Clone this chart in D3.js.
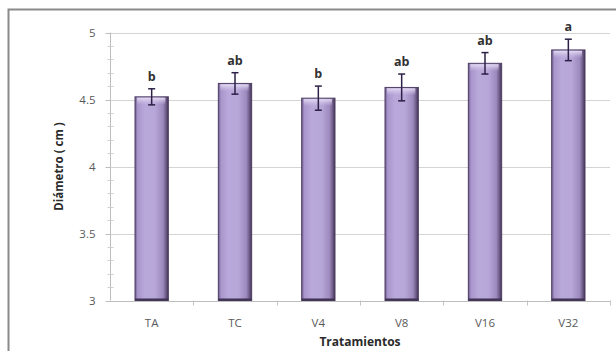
<!DOCTYPE html>
<html>
<head>
<meta charset="utf-8">
<script src="https://cdn.jsdelivr.net/npm/d3@7/dist/d3.min.js"></script>
<style>
  html, body { margin: 0; padding: 0; background: #fff; }
  svg { display: block; }
  text { font-family: "Open Sans", "DejaVu Sans", sans-serif; }
</style>
</head>
<body>
<svg id="chart" width="616" height="351"></svg>
<script>
// Treatments, mean diameter (cm), error (±) and significance letters
const categories = ["TA", "TC", "V4", "V8", "V16", "V32"];
const diameters  = [4.52, 4.62, 4.51, 4.59, 4.77, 4.87];
const errors     = [0.06, 0.08, 0.09, 0.10, 0.08, 0.08];
const letters    = ["b", "ab", "b", "ab", "ab", "a"];
const yTicks     = [3, 3.5, 4, 4.5, 5];
const yMinorTicks = d3.range(30, 51).map(v => v / 10);

const svg = d3.select("#chart");
const margin = { left: 110, right: 6, top: 32.5, bottom: 50.5 };
const W = 616, H = 351;

// outer frame
svg.append("rect")
  .attr("x", 8.5).attr("y", 9.5)
  .attr("width", 640).attr("height", 400)
  .attr("fill", "#fff")
  .attr("stroke", "#8a8a8a").attr("stroke-width", 2);

const x = d3.scaleBand()
  .domain(categories)
  .range([margin.left, W - margin.right])
  .paddingInner(0.6).paddingOuter(0.3);

const y = d3.scaleLinear()
  .domain([3, 5])
  .range([H - margin.bottom, margin.top]);

// gridlines
svg.append("g")
  .selectAll("line")
  .data(yTicks.filter(v => v > 3))
  .join("line")
  .attr("x1", margin.left).attr("x2", W - margin.right)
  .attr("y1", d => Math.round(y(d)) + 0.5).attr("y2", d => Math.round(y(d)) + 0.5)
  .attr("stroke", "#d4d4d4").attr("stroke-width", 1);

// bar gradients
const defs = svg.append("defs");
const grad = defs.append("linearGradient").attr("id", "barGrad")
  .attr("x1", "0%").attr("x2", "100%").attr("y1", "0%").attr("y2", "0%");
[["0%", "#6d5a8c"], ["8%", "#a996cc"], ["30%", "#b9a8da"], ["60%", "#b7a6d8"],
 ["84%", "#9c89bd"], ["93%", "#6f5c88"], ["100%", "#3f3252"]]
  .forEach(([o, c]) => grad.append("stop").attr("offset", o).attr("stop-color", c));

const topGrad = defs.append("linearGradient").attr("id", "topGrad")
  .attr("x1", "0%").attr("x2", "0%").attr("y1", "0%").attr("y2", "100%");
[["0%", "#e6def4", 0.95], ["100%", "#cfc3e8", 0]]
  .forEach(([o, c, a]) => topGrad.append("stop").attr("offset", o).attr("stop-color", c).attr("stop-opacity", a));

// y axis (with minor ticks)
const yAxisG = svg.append("g").attr("transform", `translate(${margin.left + 0.5},0)`);
yAxisG.append("line")
  .attr("y1", y(5)).attr("y2", y(3))
  .attr("stroke", "#bdbdbd");
yAxisG.selectAll("line.minor")
  .data(yMinorTicks)
  .join("line").attr("class", "minor")
  .attr("x1", -3).attr("x2", 3)
  .attr("y1", d => Math.round(y(d)) + 0.5).attr("y2", d => Math.round(y(d)) + 0.5)
  .attr("stroke", "#cfcfcf");
yAxisG.selectAll("line.major")
  .data(yTicks)
  .join("line").attr("class", "major")
  .attr("x1", -5).attr("x2", 0)
  .attr("y1", d => Math.round(y(d)) + 0.5).attr("y2", d => Math.round(y(d)) + 0.5)
  .attr("stroke", "#bdbdbd");
yAxisG.selectAll("text")
  .data(yTicks)
  .join("text")
  .attr("x", -15).attr("y", d => y(d))
  .attr("dy", "0.35em")
  .attr("text-anchor", "end")
  .attr("font-size", 11.5)
  .attr("fill", "#5a5a5a")
  .text(d => d3.format("~g")(d));

// bars
const bars = svg.append("g");
categories.forEach((c, i) => {
  const bx = x(c), bw = x.bandwidth();
  const top = y(diameters[i]), bottom = y(3);
  bars.append("rect")
    .attr("x", bx).attr("y", top)
    .attr("width", bw).attr("height", bottom - top)
    .attr("fill", "url(#barGrad)")
    .attr("stroke", "#4e3f63").attr("stroke-width", 1);
  bars.append("rect")
    .attr("x", bx + 2).attr("y", top + 1)
    .attr("width", bw - 5).attr("height", 7)
    .attr("fill", "url(#topGrad)");
  bars.append("line")
    .attr("x1", bx).attr("x2", bx + bw)
    .attr("y1", bottom - 1).attr("y2", bottom - 1)
    .attr("stroke", "#3f3252").attr("stroke-width", 2);
});

// x axis
const xAxisG = svg.append("g");
xAxisG.append("line")
  .attr("x1", margin.left).attr("x2", W - margin.right)
  .attr("y1", Math.round(y(3)) + 0.5).attr("y2", Math.round(y(3)) + 0.5)
  .attr("stroke", "#bdbdbd");
const step = x.step();
xAxisG.selectAll("line.tick")
  .data(d3.range(1, categories.length + 1))
  .join("line").attr("class", "tick")
  .attr("x1", k => Math.round(margin.left + k * step) + 0.5)
  .attr("x2", k => Math.round(margin.left + k * step) + 0.5)
  .attr("y1", y(3)).attr("y2", y(3) + 5)
  .attr("stroke", "#c4c4c4");
xAxisG.selectAll("text")
  .data(categories)
  .join("text")
  .attr("x", d => x(d) + x.bandwidth() / 2)
  .attr("y", y(3) + 26)
  .attr("text-anchor", "middle")
  .attr("font-size", 11.5)
  .attr("fill", "#5a5a5a")
  .text(d => d);

// error bars
const err = svg.append("g").attr("stroke", "#2c2046").attr("stroke-width", 1.5);
categories.forEach((c, i) => {
  const cx = x(c) + x.bandwidth() / 2;
  const hi = y(diameters[i] + errors[i]), lo = y(diameters[i] - errors[i]);
  err.append("line").attr("x1", cx).attr("x2", cx).attr("y1", hi).attr("y2", lo);
  err.append("line").attr("x1", cx - 3.5).attr("x2", cx + 3.5).attr("y1", hi).attr("y2", hi);
  err.append("line").attr("x1", cx - 3.5).attr("x2", cx + 3.5).attr("y1", lo).attr("y2", lo);
});

// significance letters
svg.append("g")
  .selectAll("text")
  .data(categories)
  .join("text")
  .attr("x", d => x(d) + x.bandwidth() / 2)
  .attr("y", (d, i) => y(diameters[i] + errors[i]) - 8)
  .attr("text-anchor", "middle")
  .attr("font-size", 12.5)
  .attr("font-weight", "bold")
  .attr("fill", "#303030")
  .text((d, i) => letters[i]);

// axis titles
svg.append("text")
  .attr("transform", `translate(63,${(y(3) + y(5)) / 2}) rotate(-90)`)
  .attr("text-anchor", "middle")
  .attr("font-size", 11.5)
  .attr("font-weight", "bold")
  .attr("fill", "#2a2a2a")
  .text("Diámetro ( cm )");

svg.append("text")
  .attr("x", (margin.left + W - margin.right) / 2)
  .attr("y", 346)
  .attr("text-anchor", "middle")
  .attr("font-size", 12)
  .attr("font-weight", "bold")
  .attr("fill", "#2a2a2a")
  .text("Tratamientos");
</script>
</body>
</html>
